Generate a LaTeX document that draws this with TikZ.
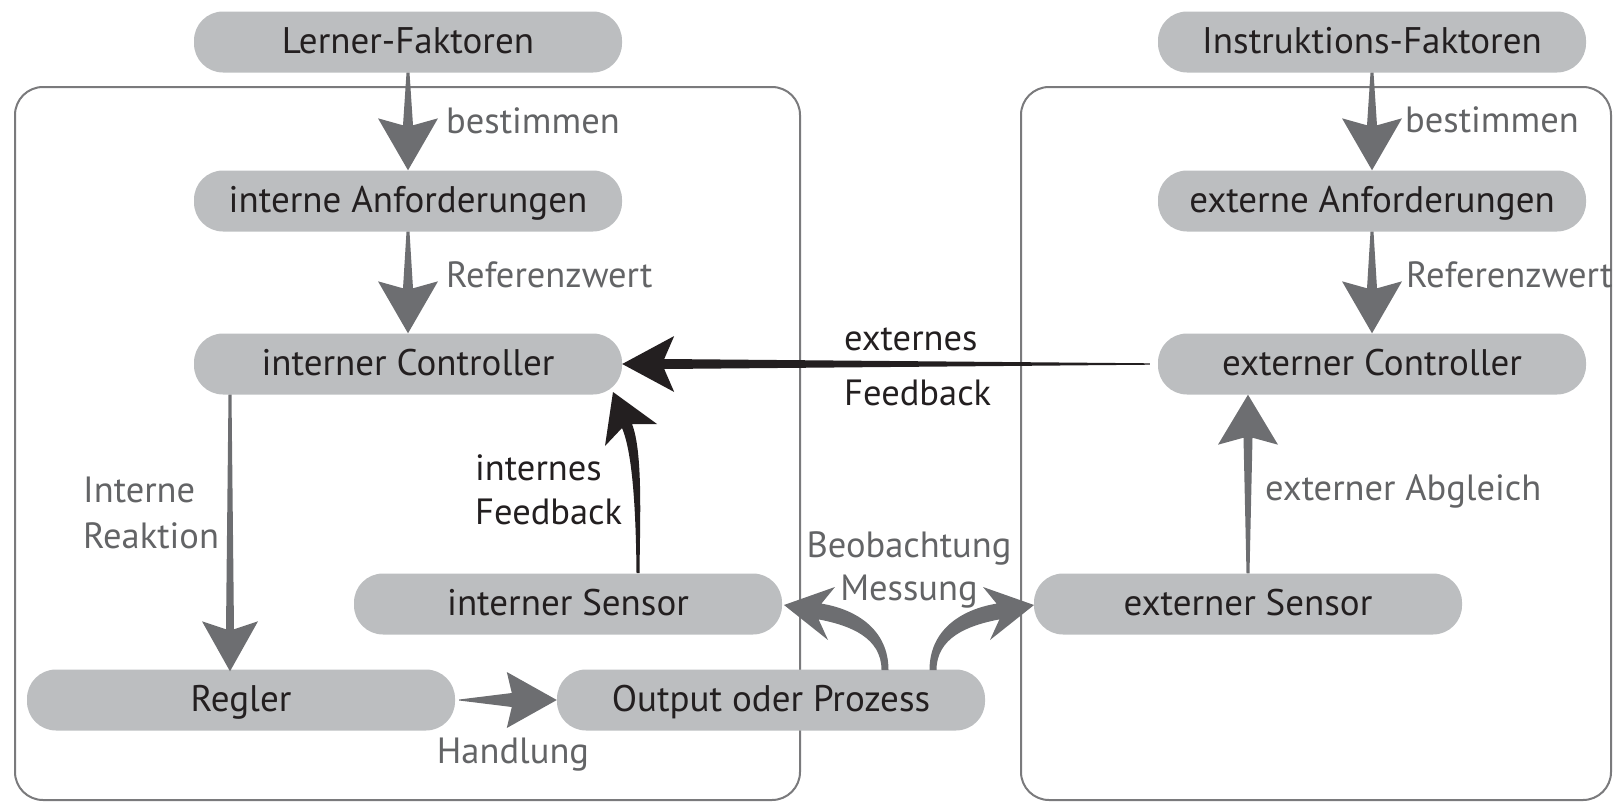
\documentclass[tikz,border=0pt]{standalone}
\usepackage{fontspec}
\setmainfont{PT Sans}
\usetikzlibrary{calc}
\definecolor{pillgray}{HTML}{BCBEC0}
\definecolor{arrowgray}{HTML}{6D6E71}
\definecolor{labelgray}{HTML}{636466}
\definecolor{inkblack}{HTML}{231F20}
\definecolor{framegray}{HTML}{7A7A7C}

% Straight tapered arrow, filled as one shape:
% #1 colour, #2 tail, #3 tip, #4 tail half-width, #5 shaft half-width at the head,
% #6 head length, #7 head half-width, #8 distance from tip to the notch
\newcommand\taper[8]{%
  \coordinate (tpA) at #2;
  \coordinate (tpB) at #3;
  \coordinate (tpH) at ($(tpB)!#6!(tpA)$);
  \coordinate (tpN) at ($(tpB)!#8!(tpA)$);
  \fill[#1] ($(tpA)!#4!90:(tpB)$) -- ($(tpN)!#5!-90:(tpA)$) -- ($(tpH)!#7!-90:(tpA)$)
    -- (tpB) -- ($(tpH)!#7!90:(tpA)$) -- ($(tpN)!#5!90:(tpA)$) -- ($(tpA)!#4!-90:(tpB)$) -- cycle;
}

\begin{document}
\begin{tikzpicture}[x=1pt,y=-1pt,
  pill/.style={rectangle, rounded corners=29pt, fill=pillgray, minimum width=428pt,
    minimum height=61pt, inner sep=0pt, text=inkblack,
    font=\fontsize{37}{42}\selectfont, text height=27pt, text depth=5pt},
  lbl/.style={anchor=base west, inner sep=0pt, text=labelgray, font=\fontsize{36.5}{42}\selectfont},
  blk/.style={lbl, text=inkblack},
  groupbox/.style={draw=framegray, line width=2pt, rounded corners=28pt}]
\useasboundingbox (0,0) rectangle (1614,803);

% the two system frames
\draw[groupbox] (15,87) rectangle (800,800);
\draw[groupbox] (1021,87) rectangle (1611,800);

% blocks
\node[pill] (LF)  at (408,42)   {Lerner-Faktoren};
\node[pill] (iA)  at (408,201)  {interne Anforderungen};
\node[pill] (iC)  at (408,364)  {interner Controller};
\node[pill] (iS)  at (568,604)  {interner Sensor};
\node[pill] (Rg)  at (241,700)  {Regler};
\node[pill] (OP)  at (771,700)  {Output oder Prozess};
\node[pill] (IF)  at (1372,42)  {Instruktions-Faktoren};
\node[pill] (eA)  at (1372,201) {externe Anforderungen};
\node[pill] (eC)  at (1372,364) {externer Controller};
\node[pill] (eS)  at (1248,604) {externer Sensor};

% straight connectors
\taper{arrowgray}{(LF.south)}{(iA.north)}{1.5pt}{5pt}{52pt}{30pt}{45pt}
\taper{arrowgray}{(iA.south)}{(iC.north)}{1.5pt}{5pt}{52pt}{30pt}{45pt}
\taper{arrowgray}{(IF.south)}{(eA.north)}{1.5pt}{5pt}{52pt}{30pt}{45pt}
\taper{arrowgray}{(eA.south)}{(eC.north)}{1.5pt}{5pt}{52pt}{30pt}{45pt}
\taper{arrowgray}{($(iC.south -| Rg.north)+(-11,0)$)}{($(Rg.north)+(-11,2)$)}{1.5pt}{4pt}{50pt}{28pt}{42pt}
\taper{arrowgray}{($(Rg.east)+(4,0)$)}{(OP.west)}{0.5pt}{7pt}{50pt}{28pt}{45pt}
\taper{arrowgray}{(eS.north)}{(eS.north |- eC.south)}{1.5pt}{4.5pt}{50pt}{30pt}{43pt}
\taper{inkblack}{($(eC.west)+(-8,0)$)}{(iC.east)}{0.7pt}{5pt}{52pt}{28pt}{42pt}

% curved connectors
\fill[inkblack] (636.5,573) .. controls (636,520) and (633.5,455) .. (622,428)
  -- (605,446) -- (613,392) -- (657,424) -- (632,424)
  .. controls (643,452) and (640,520) .. (639.5,573) -- cycle;
\fill[arrowgray] (888.5,670) .. controls (888.5,630) and (857,609.5) .. (821.4,603.6)
  -- (835,587) -- (784,605) -- (828,640) -- (818.6,619.4)
  .. controls (851,625.5) and (881.5,638) .. (881.5,670) -- cycle;
\fill[arrowgray] (929.5,670) .. controls (929.5,630) and (961,609.5) .. (996.6,603.6)
  -- (983,587) -- (1034,605) -- (990,640) -- (999.4,619.4)
  .. controls (967,625.5) and (936.5,638) .. (936.5,670) -- cycle;

% labels
\node[lbl] (l1) at (446,133) {bestimmen};
\node[lbl] (l2) at (446,287) {Referenzwert};
\node[lbl] (l3) at (1405,132) {bestimmen};
\node[lbl] (l4) at (1406,287) {Referenzwert};
\node[lbl] (l5) at (83,502) {Interne};
\node[lbl] (l6) at (83,548) {Reaktion};
\node[blk] (l7) at (475,480) {internes};
\node[blk] (l8) at (475,524) {Feedback};
\node[blk] (l9) at (844,350) {externes};
\node[blk] (l10) at (844,405) {Feedback};
\node[lbl] (l11) at (1265,500) {externer Abgleich};
\node[lbl, anchor=base] (l12) at (909,557) {Beobachtung};
\node[lbl, anchor=base] (l13) at (909,600) {Messung};
\node[lbl, anchor=base] (l14) at (513,763) {Handlung};
\end{tikzpicture}
\end{document}
